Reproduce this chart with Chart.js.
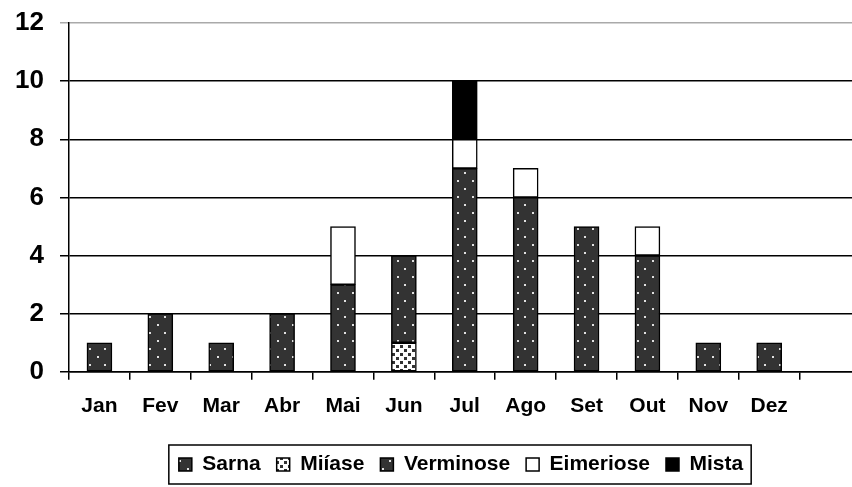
<!DOCTYPE html>
<html>
<head>
<meta charset="utf-8">
<script src="https://cdn.jsdelivr.net/npm/chart.js@4.4.0/dist/chart.umd.min.js"></script>
<style>
  html, body { margin: 0; padding: 0; background: #fff; overflow: hidden; }
  #wrap { width: 852px; height: 487px; }
</style>
</head>
<body>
<div id="wrap"><canvas id="chart" width="852" height="487"></canvas></div>
<script>
const months = ['Jan', 'Fev', 'Mar', 'Abr', 'Mai', 'Jun', 'Jul', 'Ago', 'Set', 'Out', 'Nov', 'Dez'];
const sarna     = [null, null, null, null, null, null, null, null, null, null, null, null];
const miiase    = [null, null, null, null, null, 1, null, null, null, null, null, null];
const verminose = [1, 2, 1, 2, 3, 3, 7, 6, 5, 4, 1, 1];
const eimeriose = [null, null, null, null, 2, null, 1, 1, null, 1, null, null];
const mista     = [null, null, null, null, null, null, 2, null, null, null, null, null];
const yTicks = [0, 2, 4, 6, 8, 10, 12];

const FONT = "'Liberation Sans', Arial, sans-serif";

// dark fill with small light dots
function dotPattern() {
    const c = document.createElement('canvas');
    c.width = 15; c.height = 16;
    const g = c.getContext('2d');
    g.fillStyle = '#333333';
    g.fillRect(0, 0, 15, 16);
    g.fillStyle = '#e0e0e0';
    g.fillRect(7, 4, 2, 2);
    g.fillRect(0, 12, 1, 2);
    g.fillRect(14, 12, 1, 2);
    return g.createPattern(c, 'repeat');
}

// white fill with dark squares
function squarePattern() {
    const c = document.createElement('canvas');
    c.width = 8; c.height = 8;
    const g = c.getContext('2d');
    g.fillStyle = '#ffffff';
    g.fillRect(0, 0, 8, 8);
    g.fillStyle = '#333333';
    g.fillRect(0, 1, 3, 3);
    g.fillRect(4, 5, 3, 3);
    return g.createPattern(c, 'repeat');
}

const dots = dotPattern();
const squares = squarePattern();

function toPoints(arr) {
    return arr.map((v, i) => ({ x: i, y: v }));
}

function makeSet(label, arr, fill) {
    return {
        label: label,
        data: toPoints(arr),
        backgroundColor: fill,
        borderColor: '#000',
        borderWidth: 1.5,
        borderSkipped: false,
        barThickness: 25
    };
}

// the legend in the picture sits a bit right of centre, inside a frame
const legendBox = {
    id: 'legendBox',
    afterLayout(chart) {
        chart.legend.left += 28;
        chart.legend.right += 28;
    },
    afterDraw(chart) {
        const boxes = chart.legend.legendHitBoxes;
        if (!boxes || !boxes.length) return;
        const left = Math.min(...boxes.map(b => b.left)) - 10;
        const right = Math.max(...boxes.map(b => b.left + b.width)) + 8;
        const top = boxes[0].top - 9;
        const bottom = boxes[0].top + boxes[0].height + 9;
        const ctx = chart.ctx;
        ctx.save();
        ctx.strokeStyle = '#000';
        ctx.lineWidth = 1.5;
        ctx.strokeRect(left, top, right - left, bottom - top);
        ctx.restore();
    }
};

new Chart(document.getElementById('chart'), {
    type: 'bar',
    data: {
        datasets: [
            makeSet('Sarna', sarna, dots),
            makeSet('Miíase', miiase, squares),
            makeSet('Verminose', verminose, dots),
            makeSet('Eimeriose', eimeriose, '#ffffff'),
            makeSet('Mista', mista, '#000000')
        ]
    },
    options: {
        responsive: false,
        animation: false,
        layout: { padding: { top: 0, right: 0, left: 14, bottom: 2 } },
        plugins: {
            legend: {
                position: 'bottom',
                labels: {
                    color: '#000',
                    font: { family: FONT, size: 21, weight: 'bold' },
                    boxWidth: 13,
                    boxHeight: 13,
                    padding: 16
                }
            },
            tooltip: { enabled: false }
        },
        scales: {
            x: {
                type: 'linear',
                stacked: true,
                offset: false,
                min: -0.5,
                max: 12.36,
                afterBuildTicks: (scale) => {
                    scale.ticks = months.map((m, i) => ({ value: i }));
                },
                afterFit: (scale) => {
                    scale.height += 5;
                },
                ticks: {
                    color: '#000',
                    font: { family: FONT, size: 21, weight: 'bold' },
                    padding: 14,
                    maxRotation: 0,
                    autoSkip: false,
                    callback: (v) => months[v]
                },
                grid: {
                    offset: true,
                    drawOnChartArea: false,
                    drawTicks: true,
                    tickLength: 8,
                    color: '#000',
                    lineWidth: 1.5
                },
                border: { color: '#000', width: 1.5 }
            },
            y: {
                stacked: true,
                min: 0,
                max: 12,
                afterBuildTicks: (scale) => {
                    scale.ticks = yTicks.map(v => ({ value: v }));
                },
                afterFit: (scale) => {
                    scale.width = 55;
                    scale.paddingTop = 23;
                },
                ticks: {
                    color: '#000',
                    font: { family: FONT, size: 26, weight: 'bold' },
                    padding: 16
                },
                grid: {
                    color: (ctx) => ctx.tick && ctx.tick.value === 12 ? '#aaaaaa' : '#000',
                    lineWidth: 1.5,
                    tickLength: 9
                },
                border: { color: '#000', width: 1.5 }
            }
        }
    },
    plugins: [legendBox]
});
</script>
</body>
</html>
